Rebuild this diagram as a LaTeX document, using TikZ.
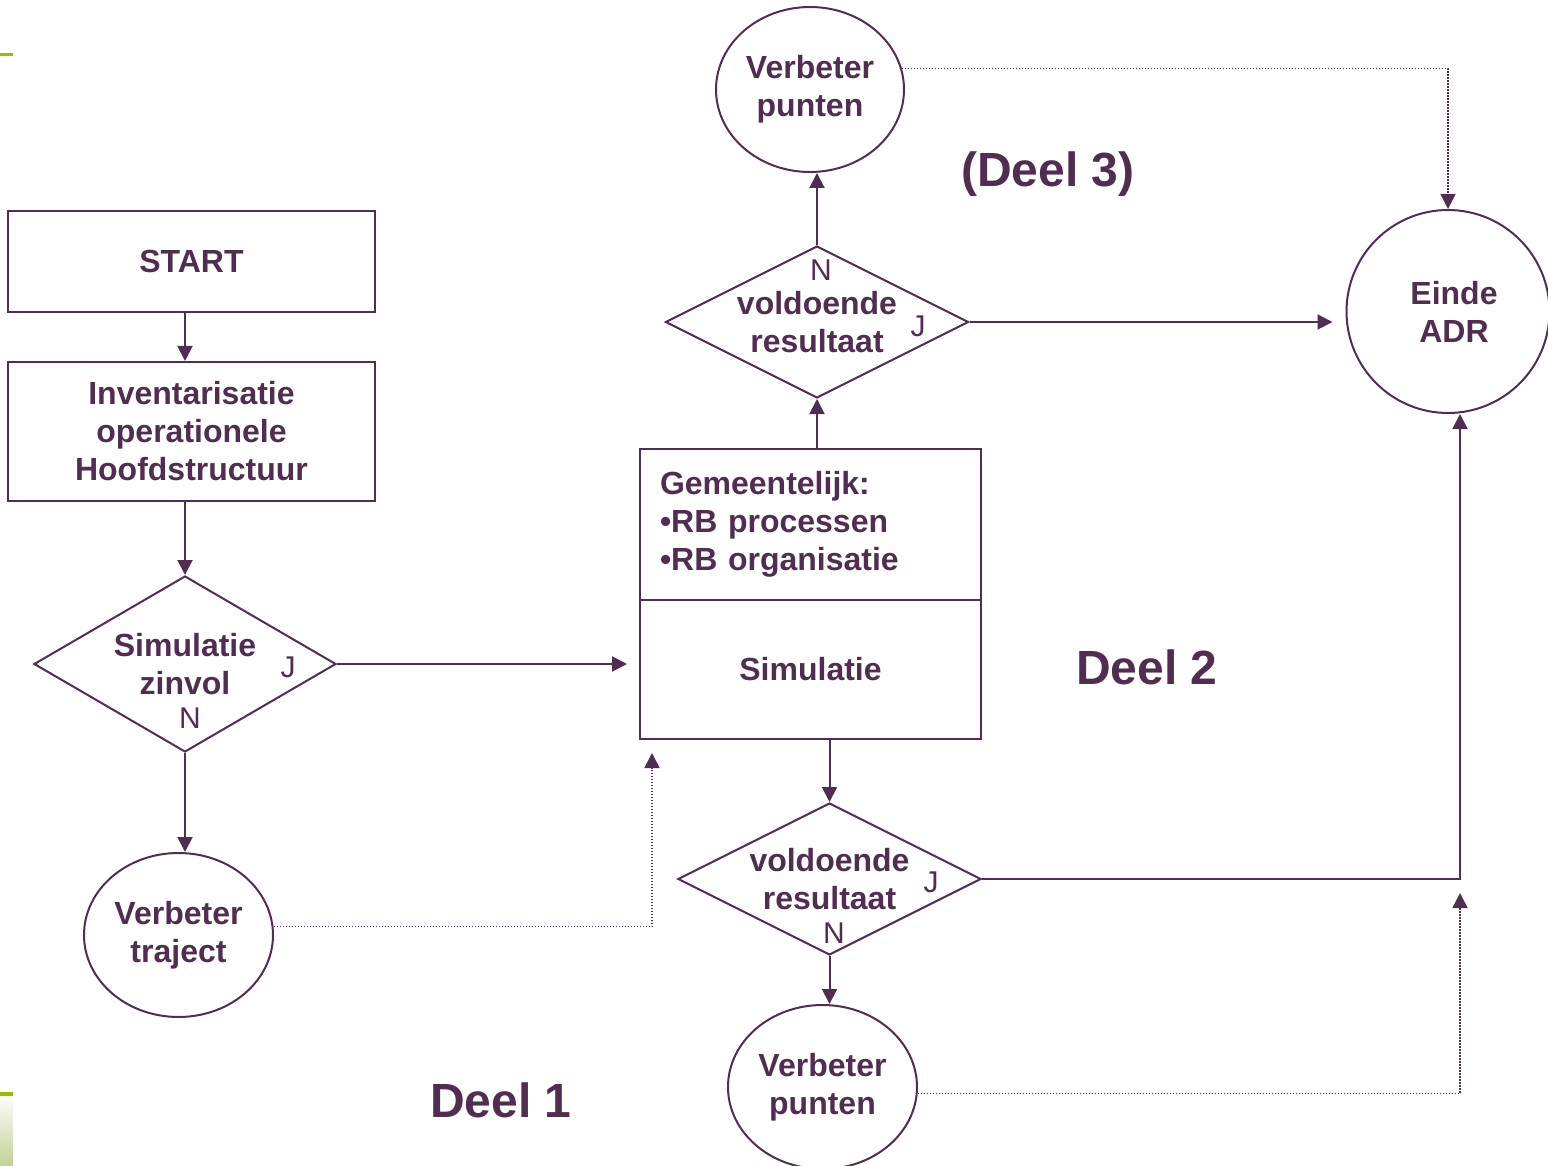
\documentclass[tikz,border=0pt]{standalone}
\usepackage{fontspec}
\setmainfont{Liberation Sans}
\usetikzlibrary{shapes.geometric,arrows.meta}
\definecolor{pur}{RGB}{81,45,82}
\definecolor{grn}{RGB}{155,187,0}
\definecolor{grnlight}{RGB}{192,210,150}
\begin{document}
\begin{tikzpicture}[x=0.5pt,y=-0.5pt,
  every node/.style={text=pur, font=\fontsize{16}{19}\selectfont\bfseries, align=center, inner sep=0pt},
  boxnode/.style={draw=pur, line width=1pt, rectangle},
  dia/.style={draw=pur, line width=1pt, diamond, aspect=2},
  ell/.style={draw=pur, line width=1pt, ellipse},
  yn/.style={font=\fontsize{15}{18}\selectfont\mdseries},
  deel/.style={font=\fontsize{24}{28}\selectfont\bfseries},
  arr/.style={draw=pur, line width=1pt, -{Triangle[length=7.5pt,width=7.5pt]}},
  dotarr/.style={draw=pur, line width=0.75pt, dash pattern=on 0.75pt off 0.75pt, -{Triangle[length=7.5pt,width=7.5pt]}}
]
\useasboundingbox (0,0) rectangle (1548,1166);

% green decorations
\fill[grn] (0,53.5) rectangle (13,56.5);
\fill[grn] (0,1092) rectangle (13,1096);
\shade[top color=white!96!grnlight, bottom color=grnlight] (0,1096) rectangle (13,1166);

% nodes
\node[boxnode, minimum width=183.5pt, minimum height=50.5pt] (start) at (191.5,261.5) {START};
\node[boxnode, minimum width=183.5pt, minimum height=69.5pt] (inv) at (191.5,431.5) {Inventarisatie\\operationele\\Hoofdstructuur};
\node[dia, aspect=1.72, minimum width=151pt, minimum height=88pt] (d1) at (185,664) {Simulatie\\zinvol};
\node[ell, minimum width=94.5pt, minimum height=82pt] (vt) at (178.5,935) {Verbeter\\traject};

\node[boxnode, minimum height=75.5pt, text width=150.5pt, inner xsep=10pt, align=left] (gem) at (810.5,524.5) {Gemeentelijk:\\•RB processen\\•RB organisatie};
\node[boxnode, minimum width=170.5pt, minimum height=69.5pt] (sim) at (810.5,669.5) {Simulatie};

\node[dia, minimum width=151.5pt, minimum height=76pt] (d2) at (817,322) {voldoende\\resultaat};
\node[ell, minimum width=94pt, minimum height=82.5pt] (vp1) at (810,89.5) {Verbeter\\punten};

\node[dia, minimum width=151.5pt, minimum height=76pt] (d3) at (829.5,879) {voldoende\\resultaat};
\node[ell, minimum width=94.5pt, minimum height=82pt] (vp2) at (822.5,1087) {Verbeter\\punten};

\node[ell, circle, minimum size=101.5pt] (einde) at (1448,311.5) {};
\node (eindetxt) at (1454,312) {Einde\\ADR};

% J / N labels
\node[yn] (j1) at (288,667) {J};
\node[yn] (n1) at (190,718) {N};
\node[yn] (n2) at (821,270) {N};
\node[yn] (j2) at (918,326) {J};
\node[yn] (j3) at (931,882) {J};
\node[yn] (n3) at (834,933) {N};

% Deel labels
\node[deel] (deel3) at (1048,174) {(Deel 3)};
\node[deel] (deel2) at (1147,667) {Deel 2};
\node[deel] (deel1) at (501,1100) {Deel 1};

\coordinate (m) at (1460,893);

% connectors
\draw[arr] (start.south -| d1.north) -- (inv.north -| d1.north);
\draw[arr] (inv.south -| d1.north) -- (d1.north);
\draw[arr, shorten >=6pt] (d1.east) -- (sim.west |- d1.east);
\draw[arr] (d1.south) -- (vt.north -| d1.south);
\draw[dotarr] (vt.5) -| ([xshift=6.5pt,yshift=-6.5pt]sim.south west);
\draw[arr] (d2.south |- gem.north) -- (d2.south);
\draw[arr] (d2.north) -- (vp1.south -| d2.north);
\draw[dotarr] (vp1.13) -| (einde.north);
\draw[arr, shorten >=6.5pt] (d2.east) -- (einde.west |- d2.east);
\draw[arr] (d3.north |- sim.south) -- (d3.north);
\draw[arr] (d3.east) -| ([xshift=6pt]einde.south);
\draw[arr] (d3.south) -- (vp2.north -| d3.south);
\draw[dotarr] (vp2.-4) -| (m);
\end{tikzpicture}
\end{document}
